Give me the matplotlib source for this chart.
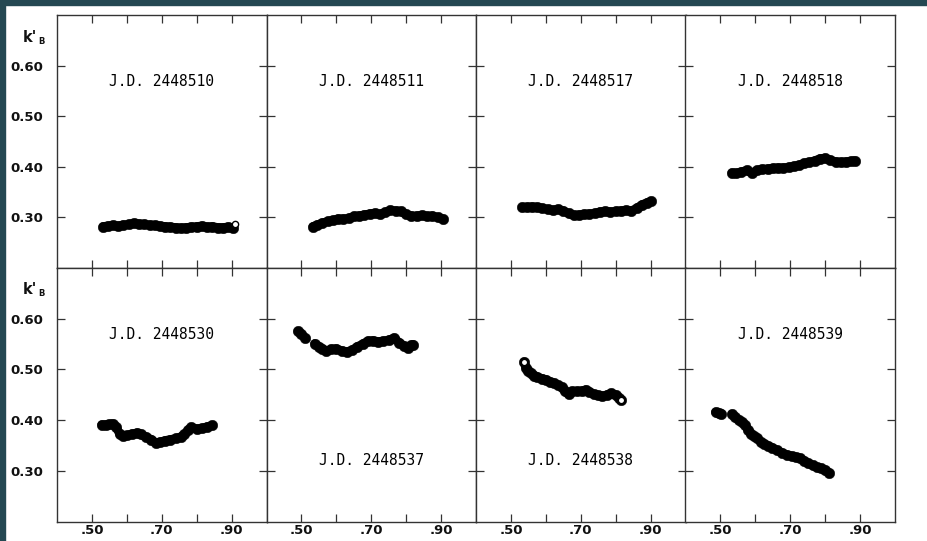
import matplotlib
matplotlib.use("Agg")
import matplotlib.pyplot as plt
from matplotlib.patches import Rectangle

# ---------------- data ----------------
titles = ["J.D. 2448510", "J.D. 2448511", "J.D. 2448517", "J.D. 2448518",
          "J.D. 2448530", "J.D. 2448537", "J.D. 2448538", "J.D. 2448539"]

x510 = [0.532, 0.545, 0.56, 0.575, 0.59, 0.605, 0.62, 0.635, 0.65, 0.665, 0.68, 0.695, 0.71,
        0.725, 0.74, 0.755, 0.77, 0.785, 0.80, 0.815, 0.83, 0.845, 0.86, 0.875, 0.89, 0.905]
y510 = [0.282, 0.283, 0.284, 0.283, 0.285, 0.286, 0.288, 0.287, 0.286, 0.285, 0.284, 0.283, 0.282,
        0.281, 0.280, 0.279, 0.280, 0.281, 0.282, 0.283, 0.281, 0.282, 0.280, 0.280, 0.281, 0.280]

x511 = [0.533, 0.545, 0.56, 0.575, 0.59, 0.605, 0.62, 0.635, 0.65, 0.665, 0.68, 0.695, 0.71,
        0.725, 0.74, 0.755, 0.77, 0.785, 0.80, 0.815, 0.83, 0.845, 0.86, 0.875, 0.89, 0.905]
y511 = [0.282, 0.285, 0.289, 0.292, 0.294, 0.297, 0.297, 0.298, 0.302, 0.303, 0.305, 0.307, 0.308,
        0.306, 0.310, 0.314, 0.313, 0.312, 0.306, 0.303, 0.303, 0.304, 0.302, 0.303, 0.300, 0.297]

x517 = [0.533, 0.545, 0.56, 0.575, 0.59, 0.605, 0.62, 0.635, 0.65, 0.665, 0.68, 0.695, 0.71,
        0.725, 0.74, 0.755, 0.77, 0.785, 0.80, 0.815, 0.83, 0.845, 0.86, 0.875, 0.89, 0.90]
y517 = [0.320, 0.320, 0.321, 0.320, 0.318, 0.316, 0.314, 0.316, 0.313, 0.308, 0.304, 0.305, 0.306,
        0.307, 0.308, 0.311, 0.312, 0.311, 0.312, 0.313, 0.314, 0.313, 0.318, 0.325, 0.329, 0.332]

x518 = [0.533, 0.545, 0.56, 0.575, 0.59, 0.605, 0.62, 0.635, 0.65, 0.665, 0.68, 0.695, 0.71,
        0.725, 0.74, 0.755, 0.77, 0.785, 0.80, 0.815, 0.83, 0.845, 0.86, 0.875, 0.885]
y518 = [0.388, 0.387, 0.390, 0.393, 0.388, 0.393, 0.395, 0.396, 0.397, 0.398, 0.398, 0.399, 0.401,
        0.403, 0.407, 0.409, 0.412, 0.416, 0.417, 0.413, 0.410, 0.409, 0.410, 0.411, 0.412]

x530 = [0.528, 0.54, 0.55, 0.56, 0.57, 0.58, 0.59, 0.60, 0.615, 0.63, 0.64, 0.655, 0.67,
        0.684, 0.695, 0.71, 0.725, 0.74, 0.755, 0.765, 0.775, 0.785, 0.80, 0.815, 0.83, 0.845]
y530 = [0.391, 0.391, 0.392, 0.393, 0.386, 0.372, 0.368, 0.370, 0.373, 0.375, 0.372, 0.367, 0.362,
        0.355, 0.357, 0.360, 0.362, 0.364, 0.367, 0.372, 0.380, 0.386, 0.383, 0.384, 0.387, 0.390]

x537 = [0.490, 0.50, 0.51, 0.538, 0.55, 0.56, 0.571, 0.585, 0.60, 0.615, 0.63, 0.645, 0.66,
        0.675, 0.69, 0.705, 0.72, 0.735, 0.75, 0.765, 0.78, 0.795, 0.805, 0.815, 0.82]
y537 = [0.575, 0.570, 0.563, 0.551, 0.545, 0.541, 0.536, 0.540, 0.541, 0.537, 0.535, 0.538, 0.545,
        0.550, 0.556, 0.557, 0.555, 0.556, 0.558, 0.562, 0.553, 0.546, 0.542, 0.548, 0.549]

x538 = [0.538, 0.543, 0.55, 0.557, 0.567, 0.576, 0.59, 0.60, 0.612, 0.624, 0.635, 0.645, 0.655,
        0.665, 0.676, 0.69, 0.705, 0.714, 0.725, 0.738, 0.75, 0.762, 0.775, 0.786, 0.80, 0.81, 0.815]
y538 = [0.515, 0.503, 0.497, 0.493, 0.488, 0.485, 0.482, 0.480, 0.476, 0.473, 0.469, 0.465, 0.458,
        0.451, 0.457, 0.457, 0.458, 0.460, 0.456, 0.451, 0.449, 0.447, 0.450, 0.453, 0.450, 0.444, 0.440]

x539 = [0.486, 0.495, 0.503, 0.533, 0.543, 0.552, 0.562, 0.571, 0.58, 0.588, 0.597, 0.605, 0.615,
        0.624, 0.635, 0.648, 0.662, 0.676, 0.69, 0.705, 0.717, 0.729, 0.74, 0.752, 0.764, 0.776,
        0.788, 0.80, 0.812]
y539 = [0.416, 0.414, 0.413, 0.412, 0.406, 0.400, 0.396, 0.390, 0.380, 0.373, 0.368, 0.364, 0.358,
        0.354, 0.350, 0.346, 0.341, 0.336, 0.332, 0.329, 0.327, 0.325, 0.320, 0.315, 0.311, 0.307,
        0.305, 0.302, 0.296]

series_x = [x510, x511, x517, x518, x530, x537, x538, x539]
series_y = [y510, y511, y517, y518, y530, y537, y538, y539]

# open (hollow) end points: (panel index, x, y)
open_pts = [(0, 0.911, 0.287), (6, 0.538, 0.515), (6, 0.815, 0.440)]

xticks = [0.50, 0.60, 0.70, 0.80, 0.90]
xticklabels = [".50", "", ".70", "", ".90"]
yticks = [0.30, 0.40, 0.50, 0.60]
yticklabels = ["0.30", "0.40", "0.50", "0.60"]
ylabel_main = "k'"
ylabel_sub = "B"

# ---------------- figure ----------------
W, H = 928, 541
fig = plt.figure(figsize=(W / 100, H / 100), dpi=100)
fig.patch.set_facecolor("white")
teal = "#244852"
fig.add_artist(Rectangle((0, 0), 5 / W, 1, transform=fig.transFigure, color=teal, zorder=-5))
fig.add_artist(Rectangle((0, 1 - 5 / H), 1, 5 / H, transform=fig.transFigure, color=teal, zorder=-5))

left_px, right_px = 57, 895
top_px, mid_px, bot_px = 15, 268, 521.7
pw = (right_px - left_px) / 4
ink = "#111111"
fs = 9.5

title_y = [0.568, 0.568, 0.568, 0.568, 0.568, 0.320, 0.320, 0.568]


def segments(xs, ys, gap=0.02):
    """split a series where the phase coverage has a gap"""
    segs, cx, cy = [], [xs[0]], [ys[0]]
    for a, b, v in zip(xs[:-1], xs[1:], ys[1:]):
        if b - a > gap:
            segs.append((cx, cy))
            cx, cy = [], []
        cx.append(b)
        cy.append(v)
    segs.append((cx, cy))
    return segs


for i in range(8):
    r, c = divmod(i, 4)
    x0 = left_px + c * pw
    if r == 0:
        y0, y1 = mid_px, top_px
    else:
        y0, y1 = bot_px, mid_px
    ax = fig.add_axes([x0 / W, 1 - y0 / H, pw / W, (y0 - y1) / H])
    ax.set_xlim(0.40, 1.00)
    ax.set_ylim(0.20, 0.70)
    for s in ax.spines.values():
        s.set_linewidth(1.0)
        s.set_color("#333333")
    for sx, sy in segments(series_x[i], series_y[i]):
        ax.plot(sx, sy, "-", lw=6.3, color="black", solid_capstyle="round")
        ax.plot(sx, sy, "o", ms=7.6, color="black", mec="black", mew=0.3)
    for (pi, px, py) in open_pts:
        if pi == i:
            ax.plot([px], [py], "o", ms=4.5, mfc="white", mec="black", mew=1.0, zorder=5)
    ax.text(0.70, title_y[i], titles[i], ha="center", va="center",
            fontsize=10.5, family="DejaVu Sans Mono", color="black")
    ax.set_xticks(xticks)
    ax.set_yticks(yticks)
    ax.tick_params(direction="in", top=True, right=True, length=5.5, width=0.9,
                   color="#333333", labelsize=fs, labelcolor=ink)
    ax.tick_params(axis="x", pad=2)
    ax.tick_params(axis="y", pad=10)
    if r == 1:
        ax.set_xticklabels(xticklabels, fontweight="bold")
    else:
        ax.set_xticklabels([])
    if c == 0:
        ax.set_yticklabels(yticklabels, fontweight="bold")
        ky = 37 if r == 0 else 290
        fig.text(23 / W, 1 - ky / H, ylabel_main, fontsize=10.5, ha="left", va="center",
                 color=ink, fontweight="bold")
        fig.text(38 / W, 1 - (ky + 4) / H, ylabel_sub, fontsize=6, ha="left", va="center",
                 color=ink, fontweight="bold")
    else:
        ax.set_yticklabels([])

fig.savefig("out.png", dpi=100, facecolor=fig.get_facecolor())
